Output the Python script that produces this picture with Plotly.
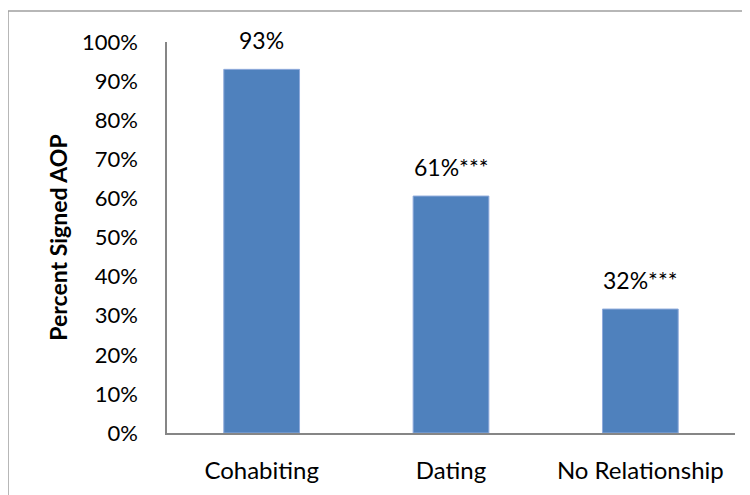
import plotly.graph_objects as go

categories = ["Cohabiting", "Dating", "No Relationship"]
values = [0.93, 0.606, 0.317]
labels = ["93%", "61%***", "32%***"]
y_title = "Percent Signed AOP"
FONT = "Lato, Carlito, Calibri, sans-serif"

# page offset of 8px (body margin) is compensated in the margins
L, R, T, B = 159, 23, 34, 70
PW, PH = 750 - L - R, 495 - T - B

fig = go.Figure(go.Bar(
    x=categories, y=values,
    marker=dict(color="#4F81BD", line=dict(color="#8EAADB", width=1)),
    width=0.4,
))

for c, v, t in zip(categories, values, labels):
    fig.add_annotation(x=c, y=v, text=t, showarrow=False, yanchor="bottom",
                       yshift=13, font=dict(family=FONT, size=23, color="#000000"))

fig.add_shape(type="rect", xref="paper", yref="paper",
              x0=(0 - L) / PW, x1=(800 - L) / PW,
              y0=(T + PH - 520) / PH, y1=(T + PH - 3) / PH,
              line=dict(color="#A0A0A0", width=1.5), fillcolor="rgba(0,0,0,0)",
              layer="below")

fig.update_layout(
    width=750, height=495,
    margin=dict(l=L, r=R, t=T, b=B),
    paper_bgcolor="white", plot_bgcolor="white",
    showlegend=False,
    font=dict(family=FONT, size=23, color="#000000"),
)
fig.update_xaxes(showline=True, linecolor="#868686", linewidth=1.5, ticks="",
                 showgrid=False, ticklabelstandoff=15,
                 tickfont=dict(family=FONT, size=24, color="#000000"))
fig.update_yaxes(range=[0, 1], dtick=0.1, tickformat=".0%", showline=True,
                 linecolor="#868686", linewidth=1.5, ticks="", showgrid=False,
                 zeroline=False, ticklabelstandoff=23,
                 tickfont=dict(family=FONT, size=22, color="#000000"),
                 title=dict(text="<b>" + y_title + "</b>", standoff=8,
                            font=dict(family=FONT, size=23, color="#000000")))

fig.write_html("out.html")
